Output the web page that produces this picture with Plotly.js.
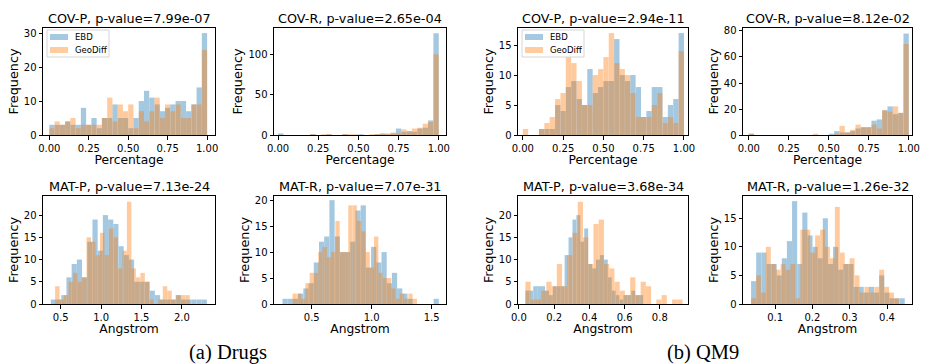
<!DOCTYPE html>
<html>
<head>
<meta charset="utf-8">
<script src="https://cdn.plot.ly/plotly-3.0.1.min.js"></script>
<style>html,body{margin:0;padding:0;background:#fff;}#chart{width:925px;height:364px;}</style>
</head>
<body>
<div id="chart"></div>
<script>
// ---------- DATA (histogram counts, bin ranges, tick labels) ----------
const seriesNames = ["EBD", "GeoDiff"];
const panelTitles = [
  "COV-P, p-value=7.99e-07", "COV-R, p-value=2.65e-04",
  "COV-P, p-value=2.94e-11", "COV-R, p-value=8.12e-02",
  "MAT-P, p-value=7.13e-24", "MAT-R, p-value=7.07e-31",
  "MAT-P, p-value=3.68e-34", "MAT-R, p-value=1.26e-32"
];
const xTitles = ["Percentage", "Percentage", "Percentage", "Percentage",
                 "Angstrom", "Angstrom", "Angstrom", "Angstrom"];
const yTitle = "Frequency";
const captions = ["(a) Drugs", "(b) QM9"];

// Drugs COV-P
const drugsCovP_EBD = [3,3,3,4,3,3,8,3,5,2,5,5,9,5,5,2,5,10,13,11,9,7,8,9,10,10,7,9,14,30];
const drugsCovP_Geo = [2,4,3,4,5,2,3,3,3,3,5,11,4,9,7,9,2,7,4,7,11,5,9,7,9,5,5,9,9,25];
const drugsCovP_binsEBD = [0.0, 1.0];
const drugsCovP_binsGeo = [0.0, 1.0];
// Drugs COV-R
const drugsCovR_EBD = [2,0,0,0,0,0,1,0,0,1,0,0,1,0,0,1,0,0,1,2,1,2,8,4,5,4,8,9,18,126];
const drugsCovR_Geo = [0,0,0,0,0,0,1,0,1,1,0,0,1,1,1,0,0,1,1,1,2,3,2,7,4,8,9,14,16,100];
const drugsCovR_binsEBD = [0.0, 1.0];
const drugsCovR_binsGeo = [0.0, 1.0];
// QM9 COV-P
const qm9CovP_EBD = [0,0,0,1,1,1,5,4,8,9,6,5,11,7,8,9,9,16,10,9,10,8,3,4,8,8,3,5,6,17];
const qm9CovP_Geo = [1,0,0,1,2,3,6,7,13,12,9,5,5,10,11,13,17,12,11,10,7,3,3,3,5,7,2,3,2,14];
const qm9CovP_binsEBD = [0.0, 1.0];
const qm9CovP_binsGeo = [0.0, 1.0];
// QM9 COV-R
const qm9CovR_EBD = [1,0,0,0,0,0,0,0,0,0,0,0,0,0,0,1,3,2,2,3,5,6,6,11,12,19,22,16,17,78];
const qm9CovR_Geo = [1,0,0,0,0,0,0,0,0,0,0,0,1,0,0,0,1,7,2,4,8,6,6,8,5,19,18,22,17,70];
const qm9CovR_binsEBD = [0.0, 1.0];
const qm9CovR_binsGeo = [0.0, 1.0];
// Drugs MAT-P
const drugsMatP_EBD = [1,1,2,6,9,10,6,14,19,12,20,19,18,13,11,10,5,5,5,3,2,1,1,1,2,1,1,1,1,1];
const drugsMatP_Geo = [4,1,2,5,7,5,6,15,14,11,16,11,17,15,8,12,23,8,6,7,5,1,0,1,4,3,1,2,2,2];
const drugsMatP_binsEBD = [0.377, 2.31];
const drugsMatP_binsGeo = [0.43, 2.097];
// Drugs MAT-R
const drugsMatR_EBD = [1,1,1,2,3,4,8,12,13,20,13,10,10,12,18,19,7,11,8,10,4,6,3,2,1,0,0,0,0,1];
const drugsMatR_Geo = [2,2,1,4,6,6,10,11,9,10,16,10,10,19,19,16,14,10,7,13,6,5,5,3,1,2,1,2,1,0];
const drugsMatR_binsEBD = [0.256, 1.56];
const drugsMatR_binsGeo = [0.339, 1.414];
// QM9 MAT-P
const qm9MatP_EBD = [3,3,4,4,4,3,2,4,4,4,11,15,19,20,14,17,9,8,10,11,10,6,3,2,1,2,2,3,2,2];
const qm9MatP_Geo = [5,1,1,3,5,4,9,4,11,16,23,15,9,18,19,9,8,5,3,2,6,2,5,4,0,1,2,0,1,1];
const qm9MatP_binsEBD = [0.037, 0.705];
const qm9MatP_binsGeo = [0.037, 0.929];
// QM9 MAT-R
const qm9MatR_EBD = [4,9,9,7,7,5,8,11,18,7,16,12,10,8,15,7,10,6,7,7,3,3,2,3,2,5,2,1,1,1];
const qm9MatR_Geo = [1,5,2,10,7,6,7,6,7,1,13,13,9,12,13,10,8,17,9,7,8,5,2,3,2,3,6,3,2,1];
const qm9MatR_binsEBD = [0.0356, 0.4476];
const qm9MatR_binsGeo = [0.0356, 0.432];

// tick labels
const tickPct = [0, 0.25, 0.5, 0.75, 1.0];
const tickDrugsMatP = [0.5, 1.0, 1.5, 2.0];
const tickDrugsMatR = [0.5, 1.0, 1.5];
const tickQm9MatP = [0.0, 0.2, 0.4, 0.6, 0.8];
const tickQm9MatR = [0.1, 0.2, 0.3, 0.4];
const yTicks1 = [0, 10, 20, 30];
const yTicks2 = [0, 50, 100];
const yTicks3 = [0, 5, 10, 15];
const yTicks4 = [0, 20, 40, 60, 80];
const yTicks5 = [0, 5, 10, 15, 20];
const yTicks6 = [0, 5, 10, 15, 20];
const yTicks7 = [0, 5, 10, 15, 20];
const yTicks8 = [0, 5, 10, 15];

// ---------- LAYOUT CONFIG ----------
const W = 925, H = 364;
const colPx = [[43, 215], [274, 446], [518, 688], [743, 912]];
const rowPx = [[28, 135], [196, 304]];
const panels = [
  {e: drugsCovP_EBD, g: drugsCovP_Geo, be: drugsCovP_binsEBD, bg: drugsCovP_binsGeo, xt: tickPct, fmt: 2, yt: yTicks1, xr: [-0.04, 1.05], yr: [0, 31.5], c: 0, r: 0, leg: true},
  {e: drugsCovR_EBD, g: drugsCovR_Geo, be: drugsCovR_binsEBD, bg: drugsCovR_binsGeo, xt: tickPct, fmt: 2, yt: yTicks2, xr: [-0.025, 1.045], yr: [0, 132.5], c: 1, r: 0},
  {e: qm9CovP_EBD, g: qm9CovP_Geo, be: qm9CovP_binsEBD, bg: qm9CovP_binsGeo, xt: tickPct, fmt: 2, yt: yTicks3, xr: [-0.03, 1.025], yr: [0, 17.85], c: 2, r: 0, leg: true},
  {e: qm9CovR_EBD, g: qm9CovR_Geo, be: qm9CovR_binsEBD, bg: qm9CovR_binsGeo, xt: tickPct, fmt: 2, yt: yTicks4, xr: [-0.036, 1.02], yr: [0, 82.3], c: 3, r: 0},
  {e: drugsMatP_EBD, g: drugsMatP_Geo, be: drugsMatP_binsEBD, bg: drugsMatP_binsGeo, xt: tickDrugsMatP, fmt: 1, yt: yTicks5, xr: [0.28, 2.41], yr: [0, 24.3], c: 0, r: 1},
  {e: drugsMatR_EBD, g: drugsMatR_Geo, be: drugsMatR_binsEBD, bg: drugsMatR_binsGeo, xt: tickDrugsMatR, fmt: 1, yt: yTicks6, xr: [0.185, 1.62], yr: [0, 20.8], c: 1, r: 1},
  {e: qm9MatP_EBD, g: qm9MatP_Geo, be: qm9MatP_binsEBD, bg: qm9MatP_binsGeo, xt: tickQm9MatP, fmt: 1, yt: yTicks7, xr: [-0.005, 0.96], yr: [0, 24.3], c: 2, r: 1},
  {e: qm9MatR_EBD, g: qm9MatR_Geo, be: qm9MatR_binsEBD, bg: qm9MatR_binsGeo, xt: tickQm9MatR, fmt: 1, yt: yTicks8, xr: [0.014, 0.467], yr: [0, 18.9], c: 3, r: 1}
];

const BLUE = "#1f77b4", ORANGE = "#ff7f0e";
const FONT = "DejaVu Sans";

function centers(counts, rng) {
  const n = counts.length, w = (rng[1] - rng[0]) / n;
  return {x: counts.map((_, i) => rng[0] + (i + 0.5) * w), w: w};
}
const px = v => v / W;
const py = v => 1 - v / H;

const traces = [];
const layout = {
  width: W, height: H,
  margin: {l: 0, r: 0, t: 0, b: 0},
  paper_bgcolor: "#fff", plot_bgcolor: "#fff",
  barmode: "overlay",
  showlegend: false,
  font: {family: FONT, color: "#000", size: 10},
  annotations: [],
  shapes: []
};

panels.forEach((p, k) => {
  const i = k + 1;
  const xa = i === 1 ? "x" : "x" + i;
  const ya = i === 1 ? "y" : "y" + i;
  const ce = centers(p.e, p.be), cg = centers(p.g, p.bg);
  traces.push({type: "bar", x: ce.x, y: p.e, width: ce.w, xaxis: xa, yaxis: ya,
    name: seriesNames[0], marker: {color: BLUE, line: {width: 0}}, opacity: 0.4, hoverinfo: "skip"});
  traces.push({type: "bar", x: cg.x, y: p.g, width: cg.w, xaxis: xa, yaxis: ya,
    name: seriesNames[1], marker: {color: ORANGE, line: {width: 0}}, opacity: 0.4, hoverinfo: "skip"});
  const cx = colPx[p.c], ry = rowPx[p.r];
  const axCommon = {showline: true, linecolor: "#000", linewidth: 1, mirror: true,
    ticks: "outside", ticklen: 3.5, tickwidth: 1, tickcolor: "#000",
    showgrid: false, zeroline: false, tickfont: {family: FONT, size: 10, color: "#000"}, fixedrange: true};
  layout["xaxis" + (i === 1 ? "" : i)] = Object.assign({}, axCommon, {
    domain: [px(cx[0]), px(cx[1])], anchor: ya, range: p.xr,
    tickmode: "array", tickvals: p.xt, ticktext: p.xt.map(v => v.toFixed(p.fmt)),
    title: {text: xTitles[k], font: {family: FONT, size: 12.3, color: "#000"}, standoff: 2}
  });
  layout["yaxis" + (i === 1 ? "" : i)] = Object.assign({}, axCommon, {
    domain: [py(ry[1]), py(ry[0])], anchor: xa, range: p.yr,
    tickmode: "array", tickvals: p.yt, ticktext: p.yt.map(v => String(v)),
    title: {text: yTitle, font: {family: FONT, size: 12.8, color: "#000"}, standoff: 2}
  });
  layout.annotations.push({text: panelTitles[k], xref: "paper", yref: "paper",
    x: px((cx[0] + cx[1]) / 2), y: py(ry[0] - 10), xanchor: "center", yanchor: "middle",
    showarrow: false, font: {family: FONT, size: 12.8, color: "#000"}});

  if (p.leg) {
    // legend box drawn in the upper-left corner of the panel
    const L = cx[0] + 4, T = ry[0] + 2, Wd = 62, Ht = 27;
    layout.shapes.push({type: "rect", xref: "paper", yref: "paper",
      x0: px(L), x1: px(L + Wd), y0: py(T + Ht), y1: py(T),
      line: {color: "#d6d6d6", width: 1}, fillcolor: "rgba(255,255,255,0.8)"});
    [BLUE, ORANGE].forEach((col, j) => {
      const cyc = T + 7 + j * 13;
      layout.shapes.push({type: "rect", xref: "paper", yref: "paper",
        x0: px(L + 3), x1: px(L + 21), y0: py(cyc + 3), y1: py(cyc - 3),
        line: {width: 0}, fillcolor: col, opacity: 0.4});
      layout.annotations.push({text: seriesNames[j], xref: "paper", yref: "paper",
        x: px(L + 26), y: py(cyc), xanchor: "left", yanchor: "middle", showarrow: false,
        font: {family: FONT, size: 8.5, color: "#000"}});
    });
  }
});

captions.forEach((t, j) => {
  layout.annotations.push({text: t, xref: "paper", yref: "paper",
    x: px([228, 703][j]), y: py(352), xanchor: "center", yanchor: "middle",
    showarrow: false, font: {family: "Liberation Serif", size: 20.5, color: "#000"}});
});

Plotly.newPlot("chart", traces, layout, {displayModeBar: false, staticPlot: true});
</script>
</body>
</html>
